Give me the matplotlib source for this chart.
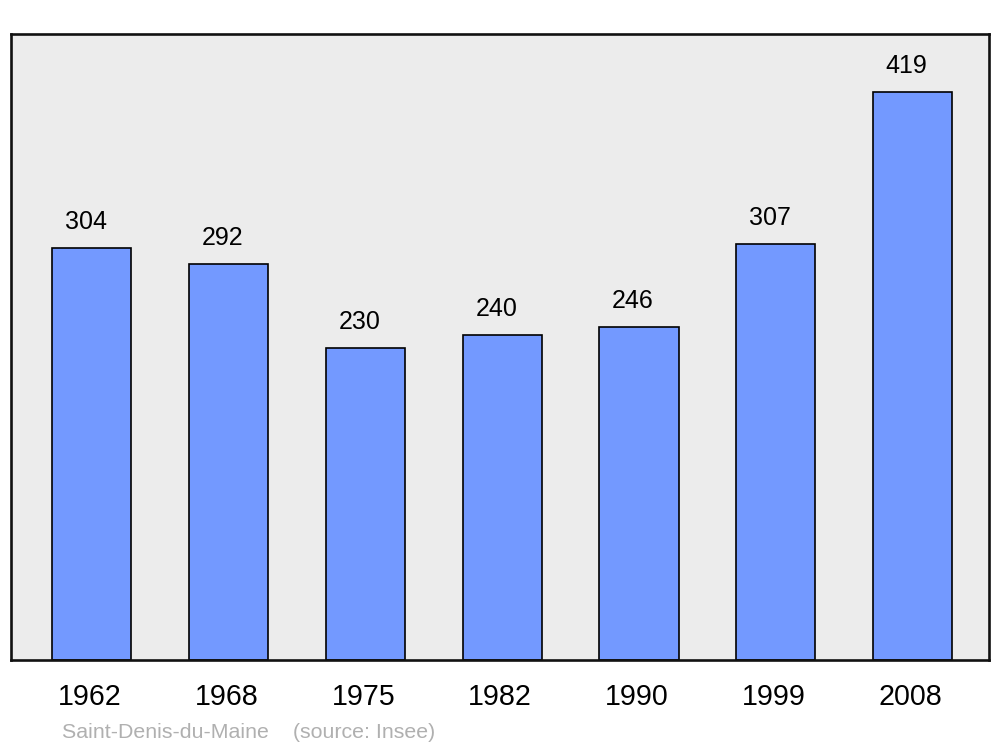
import matplotlib
matplotlib.use("Agg")
import matplotlib.pyplot as plt

# population data
years = ["1962", "1968", "1975", "1982", "1990", "1999", "2008"]
population = [304, 292, 230, 240, 246, 307, 419]
commune = "Saint-Denis-du-Maine"
source = "(source: Insee)"

plt.rcParams["font.family"] = ["Liberation Sans", "DejaVu Sans"]

fig = plt.figure(figsize=(10, 7.47), dpi=100)
ax = fig.add_axes([0.011, 0.1165, 0.978, 0.838])
ax.set_facecolor("#ececec")

x = list(range(len(years)))
ax.bar(x, population, width=0.578, color="#7399ff", edgecolor="black",
       linewidth=1.2, zorder=2)

ax.set_xlim(-0.592, len(years) - 1 + 0.559)
ax.set_ylim(0, 462)
ax.set_xticks([])
ax.set_yticks([])
for s in ax.spines.values():
    s.set_linewidth(1.9)
    s.set_color("#111111")

# value labels above bars
for i, v in zip(x, population):
    ax.annotate(str(v), xy=(i, v), xytext=(-6, 19), textcoords="offset pixels",
                ha="center", va="baseline", fontsize=18)

# year labels below the frame
for i, yr in zip(x, years):
    ax.annotate(yr, xy=(i, 0), xycoords=("data", "axes fraction"),
                xytext=(-2, -45), textcoords="offset pixels",
                ha="center", va="baseline", fontsize=20.6)

fig.text(0.062, 0.012, commune + "    " + source, color="#b0b0b0",
         fontsize=15.4, ha="left", va="baseline")

fig.savefig("out.png", dpi=100)
